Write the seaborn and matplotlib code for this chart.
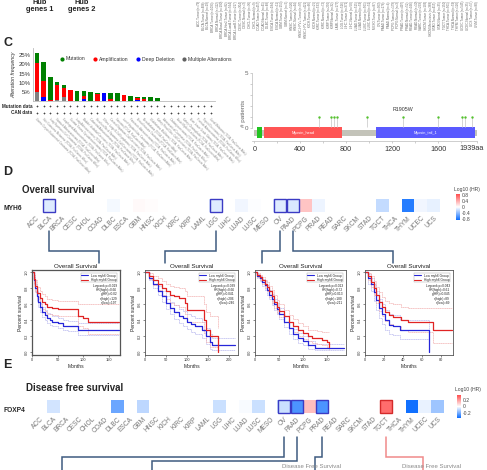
import numpy as np
import pandas as pd
import matplotlib
matplotlib.use("Agg")
import matplotlib.pyplot as plt
import seaborn as sns
from matplotlib.colors import LinearSegmentedColormap
from matplotlib.patches import Rectangle
from matplotlib.lines import Line2D

# ------------------------------------------------------------------
# Data
# ------------------------------------------------------------------
timer_labels = [
    "ACC.Tumor (n=79)", "BLCA.Tumor (n=408)", "BLCA.Normal (n=19)", "BRCA.Tumor (n=1093)",
    "BRCA.Normal (n=112)", "BRCA-Basal.Tumor (n=190)", "BRCA-Her2.Tumor (n=82)",
    "BRCA-LumA.Tumor (n=564)", "BRCA-LumB.Tumor (n=217)", "CESC.Tumor (n=304)",
    "CESC.Normal (n=3)", "CHOL.Tumor (n=36)", "CHOL.Normal (n=9)", "COAD.Tumor (n=457)",
    "COAD.Normal (n=41)", "DLBC.Tumor (n=48)", "ESCA.Tumor (n=184)", "ESCA.Normal (n=11)",
    "GBM.Tumor (n=153)", "GBM.Normal (n=5)", "HNSC.Tumor (n=520)", "HNSC.Normal (n=44)",
    "HNSC-HPV+.Tumor (n=97)", "HNSC-HPV-.Tumor (n=421)", "KICH.Tumor (n=66)",
    "KICH.Normal (n=25)", "KIRC.Tumor (n=533)", "KIRC.Normal (n=72)", "KIRP.Tumor (n=290)",
    "KIRP.Normal (n=32)", "LAML.Tumor (n=173)", "LGG.Tumor (n=516)", "LIHC.Tumor (n=371)",
    "LIHC.Normal (n=50)", "LUAD.Tumor (n=515)", "LUAD.Normal (n=59)", "LUSC.Tumor (n=501)",
    "LUSC.Normal (n=51)", "MESO.Tumor (n=87)", "OV.Tumor (n=303)", "PAAD.Tumor (n=178)",
    "PAAD.Normal (n=4)", "PCPG.Tumor (n=179)", "PCPG.Normal (n=3)", "PRAD.Tumor (n=497)",
    "PRAD.Normal (n=52)", "READ.Tumor (n=166)", "READ.Normal (n=10)", "SARC.Tumor (n=259)",
    "SKCM.Tumor (n=103)", "SKCM.Metastasis (n=368)", "STAD.Tumor (n=415)",
    "STAD.Normal (n=35)", "TGCT.Tumor (n=150)", "THCA.Tumor (n=501)", "THCA.Normal (n=59)",
    "THYM.Tumor (n=120)", "UCEC.Tumor (n=545)", "UCEC.Normal (n=35)", "UCS.Tumor (n=57)",
    "UVM.Tumor (n=80)",
]

# panel C : alteration frequency (%)
studies = [
    "Uterine Corpus Endometrial Carcinoma (TCGA, PanCancer Atlas)",
    "Skin Cutaneous Melanoma (TCGA, PanCancer Atlas)",
    "Lung Squamous Cell Carcinoma (TCGA, PanCancer Atlas)",
    "Stomach Adenocarcinoma (TCGA, PanCancer Atlas)",
    "Esophageal Adenocarcinoma (TCGA, PanCancer Atlas)",
    "Ovarian Serous Cystadenocarcinoma (TCGA, PanCancer Atlas)",
    "Lung Adenocarcinoma (TCGA, PanCancer Atlas)",
    "Bladder Urothelial Carcinoma (TCGA, PanCancer Atlas)",
    "Colorectal Adenocarcinoma (TCGA, PanCancer Atlas)",
    "Head and Neck Squamous Cell Carcinoma (TCGA, PanCancer Atlas)",
    "Diffuse Large B-Cell Lymphoma (TCGA, PanCancer Atlas)",
    "Cervical Squamous Cell Carcinoma (TCGA, PanCancer Atlas)",
    "Sarcoma (TCGA, PanCancer Atlas)",
    "Liver Hepatocellular Carcinoma (TCGA, PanCancer Atlas)",
    "Pancreatic Adenocarcinoma (TCGA, PanCancer Atlas)",
    "Breast Invasive Carcinoma (TCGA, PanCancer Atlas)",
    "Mesothelioma (TCGA, PanCancer Atlas)",
    "Glioblastoma Multiforme (TCGA, PanCancer Atlas)",
    "Kidney Renal Clear Cell Carcinoma (TCGA, PanCancer Atlas)",
    "Adrenocortical Carcinoma (TCGA, PanCancer Atlas)",
    "Cholangiocarcinoma (TCGA, PanCancer Atlas)",
    "Acute Myeloid Leukemia (TCGA, PanCancer Atlas)",
    "Kidney Chromophobe (TCGA, PanCancer Atlas)",
    "Brain Lower Grade Glioma (TCGA, PanCancer Atlas)",
    "Prostate Adenocarcinoma (TCGA, PanCancer Atlas)",
    "Thyroid Carcinoma (TCGA, PanCancer Atlas)",
    "Uveal Melanoma (TCGA, PanCancer Atlas)",
]
alt_multi = [5.0, 0, 0, 0.5, 2.0, 0, 0, 0, 0, 0, 0, 0, 0, 0, 0, 0, 0, 0, 0, 0, 0, 0, 0, 0, 0, 0, 0]
alt_deep = [0, 2.0, 0, 0, 0, 0, 0, 1.0, 0, 0, 4.3, 0, 0, 0, 0, 0.3, 0, 0, 0, 0, 0, 0, 0, 0, 0, 0, 0]
alt_amp = [16.0, 9.0, 0.7, 8.5, 5.0, 5.8, 0, 1.5, 0, 3.7, 0, 1.2, 0, 3.3, 0, 1.2, 1.0, 0, 0, 0, 0, 0, 0, 0, 0, 0, 0]
alt_mut = [5.0, 10.5, 12.3, 1.5, 2.0, 0, 5.5, 2.8, 5.0, 0.9, 0, 3.0, 4.2, 0, 2.5, 0.8, 1.0, 2.0, 1.5, 0, 0, 0, 0, 0, 0, 0, 0]

# panel C : lollipop (MYH6 protein, 1939 aa)
mut_pos = [565, 667, 696, 719, 980, 1296, 1600, 1809, 1838, 1893]
mut_count = [1, 1, 1, 1, 1, 1, 1, 1, 1, 1]
domain_names = ["", "Myosin_head", "Myosin_tail_1"]
domain_start = [26, 87, 1061]
domain_end = [70, 765, 1922]
protein_len = 1939

# heatmaps D / E
cancer_types = ["ACC", "BLCA", "BRCA", "CESC", "CHOL", "COAD", "DLBC", "ESCA", "GBM", "HNSC",
                "KICH", "KIRC", "KIRP", "LAML", "LGG", "LIHC", "LUAD", "LUSC", "MESO", "OV",
                "PAAD", "PCPG", "PRAD", "READ", "SARC", "SKCM", "STAD", "TGCT", "THCA", "THYM",
                "UCEC", "UCS"]
nan = np.nan
os_log_hr = [nan, -0.12, nan, nan, nan, nan, -0.04, nan, 0.03, 0.02, nan, nan, nan, nan, -0.12,
             nan, -0.05, -0.01, nan, -0.12, -0.14, 0.30, -0.07, nan, nan, nan, nan, -0.22, nan,
             -0.80, -0.05, -0.09]
os_sig = ["BLCA", "LGG", "OV", "PAAD"]
dfs_log_hr = [nan, -0.06, nan, nan, nan, nan, -0.20, nan, -0.09, nan, nan, nan, nan, nan, -0.07,
              nan, -0.01, -0.07, nan, -0.07, -0.24, 0.12, -0.24, nan, nan, nan, nan, 0.27, nan,
              -0.32, -0.03, -0.13]
dfs_sig_low = ["OV", "PAAD", "PRAD"]
dfs_sig_high = ["TGCT"]

# Kaplan-Meier curves (months, survival)
km_titles = ["Overall Survival"] * 4
km_xmax = [172, 222, 190, 93]
km_xticks = [[0, 50, 100, 150], [0, 50, 100, 150, 200], [0, 50, 100, 150], [0, 20, 40, 60, 80]]

blca_low_t = [0, 3, 6, 9, 12, 16, 20, 25, 30, 35, 40, 50, 60, 70, 90, 170]
blca_low_s = [1, 0.9, 0.8, 0.7, 0.63, 0.56, 0.5, 0.46, 0.42, 0.4, 0.38, 0.36, 0.33, 0.32, 0.28, 0.28]
blca_low_hi = [1, 0.94, 0.85, 0.76, 0.69, 0.62, 0.57, 0.53, 0.49, 0.47, 0.45, 0.43, 0.4, 0.39, 0.36, 0.36]
blca_low_lo = [1, 0.86, 0.75, 0.64, 0.57, 0.5, 0.44, 0.4, 0.36, 0.34, 0.32, 0.3, 0.27, 0.26, 0.21, 0.21]
blca_high_t = [0, 3, 6, 10, 15, 20, 25, 30, 40, 50, 90, 100, 110, 170]
blca_high_s = [1, 0.92, 0.83, 0.74, 0.68, 0.63, 0.6, 0.57, 0.55, 0.54, 0.45, 0.42, 0.37, 0.37]
blca_high_hi = [1, 0.97, 0.9, 0.82, 0.77, 0.73, 0.7, 0.67, 0.65, 0.64, 0.6, 0.6, 0.6, 0.6]
blca_high_lo = [1, 0.87, 0.76, 0.66, 0.6, 0.54, 0.51, 0.48, 0.46, 0.45, 0.33, 0.3, 0.22, 0.22]

lgg_low_t = [0, 10, 20, 30, 40, 50, 60, 70, 80, 90, 100, 110, 120, 135, 145, 155, 160, 215]
lgg_low_s = [1, 0.93, 0.85, 0.77, 0.7, 0.62, 0.55, 0.5, 0.45, 0.42, 0.38, 0.35, 0.33, 0.28, 0.2, 0.12, 0.08, 0.08]
lgg_low_hi = [1, 0.96, 0.9, 0.83, 0.77, 0.7, 0.63, 0.59, 0.54, 0.51, 0.47, 0.45, 0.43, 0.38, 0.3, 0.22, 0.18, 0.18]
lgg_low_lo = [1, 0.9, 0.8, 0.71, 0.63, 0.54, 0.47, 0.41, 0.36, 0.33, 0.29, 0.25, 0.23, 0.18, 0.1, 0.04, 0.02, 0.02]
lgg_high_t = [0, 10, 20, 30, 40, 50, 60, 70, 80, 95, 100, 135, 140, 145, 155, 175]
lgg_high_s = [1, 0.96, 0.9, 0.86, 0.8, 0.76, 0.72, 0.7, 0.68, 0.62, 0.53, 0.53, 0.4, 0.28, 0.2, 0.0]
lgg_high_hi = [1, 0.99, 0.96, 0.93, 0.89, 0.86, 0.83, 0.81, 0.8, 0.76, 0.7, 0.7, 0.6, 0.5, 0.45, 0.3]
lgg_high_lo = [1, 0.92, 0.84, 0.78, 0.71, 0.66, 0.61, 0.59, 0.56, 0.48, 0.38, 0.38, 0.24, 0.12, 0.06, 0.0]

ov_low_t = [0, 5, 10, 15, 20, 25, 30, 35, 40, 45, 50, 60, 70, 80, 90, 100, 110, 125, 185]
ov_low_s = [1, 0.96, 0.93, 0.88, 0.84, 0.78, 0.72, 0.66, 0.6, 0.54, 0.48, 0.38, 0.3, 0.22, 0.17, 0.13, 0.08, 0.05, 0.05]
ov_low_hi = [1, 0.98, 0.96, 0.92, 0.89, 0.84, 0.78, 0.73, 0.67, 0.61, 0.55, 0.45, 0.37, 0.29, 0.24, 0.2, 0.14, 0.1, 0.1]
ov_low_lo = [1, 0.93, 0.89, 0.83, 0.78, 0.72, 0.66, 0.59, 0.53, 0.47, 0.41, 0.31, 0.23, 0.16, 0.11, 0.08, 0.04, 0.02, 0.02]
ov_high_t = [0, 5, 10, 15, 20, 25, 30, 35, 40, 45, 50, 60, 70, 80, 90, 100, 110, 120, 130, 140, 150, 155]
ov_high_s = [1, 0.97, 0.94, 0.9, 0.86, 0.82, 0.76, 0.7, 0.63, 0.57, 0.52, 0.45, 0.38, 0.33, 0.28, 0.24, 0.2, 0.18, 0.17, 0.15, 0.12, 0.06]
ov_high_hi = [1, 0.99, 0.97, 0.94, 0.91, 0.88, 0.83, 0.78, 0.71, 0.65, 0.6, 0.53, 0.46, 0.41, 0.36, 0.32, 0.28, 0.27, 0.26, 0.25, 0.25, 0.25]
ov_high_lo = [1, 0.94, 0.9, 0.85, 0.8, 0.76, 0.69, 0.62, 0.55, 0.49, 0.44, 0.37, 0.3, 0.25, 0.2, 0.16, 0.13, 0.11, 0.1, 0.08, 0.06, 0.02]

paad_low_t = [0, 3, 6, 9, 12, 15, 18, 21, 25, 30, 37, 68]
paad_low_s = [1, 0.93, 0.85, 0.75, 0.65, 0.55, 0.47, 0.4, 0.34, 0.33, 0.28, 0.0]
paad_low_hi = [1, 0.98, 0.93, 0.85, 0.76, 0.67, 0.6, 0.53, 0.47, 0.46, 0.4, 0.0]
paad_low_lo = [1, 0.86, 0.76, 0.64, 0.53, 0.43, 0.35, 0.28, 0.22, 0.21, 0.16, 0.0]
paad_high_t = [0, 3, 6, 9, 12, 15, 18, 21, 25, 30, 38, 45, 72, 92]
paad_high_s = [1, 0.95, 0.88, 0.8, 0.72, 0.63, 0.56, 0.5, 0.46, 0.44, 0.4, 0.37, 0.27, 0.27]
paad_high_hi = [1, 0.99, 0.95, 0.89, 0.82, 0.75, 0.69, 0.64, 0.62, 0.6, 0.56, 0.55, 0.55, 0.55]
paad_high_lo = [1, 0.9, 0.81, 0.71, 0.62, 0.52, 0.45, 0.39, 0.35, 0.32, 0.28, 0.25, 0.11, 0.11]

km_stats = [
    ["Logrank p=0.019", "HR(high)=0.66", "p(HR)=0.02", "n(high)=129", "n(low)=197"],
    ["Logrank p=0.039", "HR(high)=0.66", "p(HR)=0.041", "n(high)=206", "n(low)=246"],
    ["Logrank p=0.013", "HR(high)=0.72", "p(HR)=0.013", "n(high)=180", "n(low)=211"],
    ["Logrank p=0.043", "HR(high)=0.61", "p(HR)=0.045", "n(high)=89", "n(low)=89"],
]

# ------------------------------------------------------------------
# Figure helpers (pixel coordinates, origin top-left)
# ------------------------------------------------------------------
W, H = 487, 470
sns.set_theme(style="white")
plt.rcParams["font.family"] = ["Liberation Sans", "DejaVu Sans"]

fig = plt.figure(figsize=(W / 100, H / 100), dpi=100)
fig.patch.set_facecolor("white")


def px_axes(x0, y0, x1, y1):
    return fig.add_axes([x0 / W, 1 - y1 / H, (x1 - x0) / W, (y1 - y0) / H])


def ftext(x, y, s, **kw):
    fig.text(x / W, 1 - y / H, s, **kw)


# overlay for connector lines
over = fig.add_axes([0, 0, 1, 1], zorder=-1)
over.set_xlim(0, W)
over.set_ylim(H, 0)
over.axis("off")

# ------------------------------------------------------------------
# Top strip: hub genes + expression labels
# ------------------------------------------------------------------
for cx, nm in [(40, "genes 1"), (82, "genes 2")]:
    ftext(cx, 2.5, "Hub", ha="center", va="center", fontsize=5.3, fontweight="bold", color="#222")
    ftext(cx, 9.5, nm, ha="center", va="center", fontsize=5.3, fontweight="bold", color="#222")
lab_x = np.linspace(199, 477, len(timer_labels))
for xx, lab in zip(lab_x, timer_labels):
    ftext(xx, 1, lab, rotation=90, ha="center", va="top", fontsize=2.2, color="#666")

# ------------------------------------------------------------------
# Panel C
# ------------------------------------------------------------------
ftext(8, 43, "C", ha="center", va="center", fontsize=9, fontweight="bold")

ax_bar = px_axes(33, 48, 215, 101)
xb = np.arange(len(studies))
bottom = np.zeros(len(studies))
for vals, col in [(alt_multi, "#808080"), (alt_deep, "#0000ff"),
                  (alt_amp, "#ff0000"), (alt_mut, "#008000")]:
    vals = np.array(vals, dtype=float)
    ax_bar.bar(xb, vals, bottom=bottom, color=col, width=0.68, linewidth=0)
    bottom += vals
ax_bar.set_xlim(-0.6, len(studies) - 0.4)
ax_bar.set_ylim(0, 29)
ax_bar.set_yticks([5, 10, 15, 20, 25])
ax_bar.set_yticklabels(["5%", "10%", "15%", "20%", "25%"], fontsize=4.3, color="#333")
ax_bar.set_xticks([])
ax_bar.tick_params(axis="y", length=0, pad=1.5)
for s in ["top", "right"]:
    ax_bar.spines[s].set_visible(False)
for s in ["left", "bottom"]:
    ax_bar.spines[s].set_color("#bbbbbb")
    ax_bar.spines[s].set_linewidth(0.6)
ax_bar.set_ylabel("Alteration frequency", fontsize=3.8, fontstyle="italic", labelpad=2, color="#333")

leg_items = [("Mutation", "#008000"), ("Amplification", "#ff0000"),
             ("Deep Deletion", "#0000ff"), ("Multiple Alterations", "#606060")]
handles = [Line2D([], [], marker="o", ls="", color=c, ms=2.0) for _, c in leg_items]
fig.legend(handles, [n for n, _ in leg_items], loc="center", bbox_to_anchor=(145 / W, 1 - 59 / H),
           ncol=4, frameon=False, fontsize=3.7, handletextpad=0.1, columnspacing=1.3,
           handlelength=1.2, labelcolor="#333")

ax_rows = px_axes(33, 102, 215, 116)
xx_r = np.repeat(xb, 2)
yy_r = np.tile([1, 0], len(studies))
ax_rows.scatter(xx_r, yy_r, marker="+", s=2.5, color="#444", linewidths=0.5)
ax_rows.set_xlim(ax_bar.get_xlim())
ax_rows.set_ylim(-0.5, 1.5)
ax_rows.set_yticks([1, 0])
ax_rows.set_yticklabels(["Mutation data", "CAN data"], fontsize=3.3, fontweight="bold")
ax_rows.set_xticks(xb)
ax_rows.set_xticklabels(studies, rotation=-45, ha="left", va="top", rotation_mode="anchor",
                        fontsize=1.9, color="#888")
ax_rows.tick_params(length=0, pad=1)
ax_rows.tick_params(axis="y", pad=0.5)
ax_rows.patch.set_alpha(0)
for s in ax_rows.spines.values():
    s.set_visible(False)

# lollipop
ax_lp = px_axes(252, 62, 477, 141)
ax_lp.set_xlim(-20, protein_len)
ax_lp.set_ylim(-1.18, 6.0)
ax_lp.add_patch(Rectangle((0, -0.7), protein_len, 0.55, color="#c3c3b9", lw=0))
dom_cols = ["#22c322", "#ff5555", "#5a5aff"]
for nm, a, b, c in zip(domain_names, domain_start, domain_end, dom_cols):
    ax_lp.add_patch(Rectangle((a, -0.92), b - a, 0.97, color=c, lw=0))
    if nm:
        ax_lp.text((a + b) / 2, -0.43, nm, ha="center", va="center", fontsize=2.8, color="white")
ax_lp.vlines(mut_pos, 0.05, mut_count, color="#cfcfcf", lw=0.6)
ax_lp.scatter(mut_pos, mut_count, s=3, color="#55c22f", zorder=3, lw=0)
ax_lp.text(mut_pos[5], 1.7, "R1905W", ha="center", va="center", fontsize=3.8, color="#333")
ax_lp.set_xticks([0, 400, 800, 1200, 1600, protein_len])
ax_lp.set_xticklabels(["0", "400", "800", "1200", "1600", ""], fontsize=5.2, color="#333")
ax_lp.annotate("%daa" % protein_len, xy=(protein_len, 0), xycoords=("data", "axes fraction"),
               xytext=(-3.8, -2.6), textcoords="offset points", ha="center", va="top",
               fontsize=5.2, color="#333")
ax_lp.set_xticks([200, 600, 1000, 1400, 1800], minor=True)
ax_lp.set_yticks([0, 1, 2, 3, 4, 5])
ax_lp.set_yticklabels(["0", "", "", "", "", "5"], fontsize=4.5, color="#666")
ax_lp.tick_params(axis="y", length=1.5, width=0.4, color="#aaa", pad=1.5, direction="out", left=True)
ax_lp.tick_params(axis="x", which="both", length=1.5, width=0.4, color="#aaa", pad=2, bottom=True)
ax_lp.spines["left"].set_bounds(0, 5)
for s in ["top", "right"]:
    ax_lp.spines[s].set_visible(False)
for s in ["left", "bottom"]:
    ax_lp.spines[s].set_color("#bbbbbb")
    ax_lp.spines[s].set_linewidth(0.5)
ax_lp.set_ylabel("# patients", fontsize=4.5, color="#666", labelpad=1)
ax_lp.yaxis.set_label_coords(-0.025, 0.35)
ax_lp.patch.set_alpha(0)

# ------------------------------------------------------------------
# Heatmap helper
# ------------------------------------------------------------------
hr_cmap = LinearSegmentedColormap.from_list("hr", ["#0b6dff", "#ffffff", "#ff4d4d"])


def draw_row(x0, y0, x1, y1, gene, vals, lim, ticks, cbar_box, sig_blue, sig_red):
    ax = px_axes(x0, y0, x1, y1)
    cax = px_axes(*cbar_box)
    df = pd.DataFrame([vals], index=[gene], columns=cancer_types)
    sns.heatmap(df, ax=ax, cmap=hr_cmap, vmin=-lim, vmax=lim, cbar_ax=cax,
                xticklabels=True, yticklabels=False, linewidths=0)
    ax.set_xticklabels(cancer_types, rotation=45, ha="right", va="top", rotation_mode="anchor",
                       fontsize=4.8, color="#777")
    ax.tick_params(axis="x", length=0, pad=2)
    ax.set_xlabel("")
    for nm in sig_blue:
        i = cancer_types.index(nm)
        ax.add_patch(Rectangle((i + 0.03, 0.03), 0.94, 0.94, fill=False, ec="#3b3bc4", lw=1.0, clip_on=False))
    for nm in sig_red:
        i = cancer_types.index(nm)
        ax.add_patch(Rectangle((i + 0.03, 0.03), 0.94, 0.94, fill=False, ec="#d42a2a", lw=1.0, clip_on=False))
    cax.set_yticks(ticks)
    cax.set_yticklabels([("%g" % t) for t in ticks], fontsize=3.6, color="#444")
    cax.tick_params(length=0, pad=1)
    for s in cax.spines.values():
        s.set_visible(False)
    return ax


def connector(x_start, y0, y_mid, x_end, y1, color):
    over.plot([x_start, x_start, x_end, x_end], [y0, y_mid, y_mid, y1], color=color, lw=1.1,
              solid_joinstyle="miter")


# ------------------------------------------------------------------
# Panel D
# ------------------------------------------------------------------
ftext(8, 172, "D", ha="center", va="center", fontsize=9, fontweight="bold")
ftext(22, 190, "Overall survival", ha="left", va="center", fontsize=7, fontweight="bold")
ftext(3, 209, "MYH6", ha="left", va="center", fontsize=4.8, fontweight="bold")
ftext(467, 190, "Log10 (HR)", ha="center", va="center", fontsize=3.6, color="#444")
draw_row(30, 199, 440, 212, "MYH6", os_log_hr, 0.9, [0.8, 0.4, 0, -0.4, -0.8],
         (456, 194, 460, 220), os_sig, [])

cell_d = (440 - 30) / len(cancer_types)
os_targets = [99, 165, 262, 393]
for nm, tx in zip(os_sig, os_targets):
    cx = 30 + (cancer_types.index(nm) + 0.5) * cell_d
    connector(cx, 231, 251, tx, 263, "#3f5b80")

# Kaplan-Meier panels
km_boxes = [(32, 270, 120, 355), (145, 270, 238, 355), (255, 270, 346, 355), (365, 270, 453, 355)]
km_data = [
    (blca_low_t, blca_low_s, blca_low_hi, blca_low_lo, blca_high_t, blca_high_s, blca_high_hi, blca_high_lo),
    (lgg_low_t, lgg_low_s, lgg_low_hi, lgg_low_lo, lgg_high_t, lgg_high_s, lgg_high_hi, lgg_high_lo),
    (ov_low_t, ov_low_s, ov_low_hi, ov_low_lo, ov_high_t, ov_high_s, ov_high_hi, ov_high_lo),
    (paad_low_t, paad_low_s, paad_low_hi, paad_low_lo, paad_high_t, paad_high_s, paad_high_hi, paad_high_lo),
]
for k, box in enumerate(km_boxes):
    ax = px_axes(*box)
    lt, ls_, lhi, llo, ht, hs, hhi, hlo = km_data[k]
    for t, ci, col in [(lt, lhi, "#b8b8ee"), (lt, llo, "#b8b8ee"), (ht, hhi, "#f2b0b0"), (ht, hlo, "#f2b0b0")]:
        sns.lineplot(x=t, y=ci, ax=ax, drawstyle="steps-post", color=col, lw=0.5,
                     estimator=None, sort=False, ls=(0, (2, 0.6)))
    sns.lineplot(x=lt, y=ls_, ax=ax, drawstyle="steps-post", color="#2626d9", lw=0.9,
                 estimator=None, sort=False)
    sns.lineplot(x=ht, y=hs, ax=ax, drawstyle="steps-post", color="#e02424", lw=0.9,
                 estimator=None, sort=False)
    ax.set_xlim(0, km_xmax[k])
    ax.set_ylim(-0.04, 1.03)
    ax.set_xticks(km_xticks[k])
    ax.set_yticks([0, 0.2, 0.4, 0.6, 0.8, 1.0])
    ax.set_yticklabels(["0.0", "0.2", "0.4", "0.6", "0.8", "1.0"], rotation=90, va="center")
    ax.tick_params(labelsize=2.8, length=1.2, width=0.4, pad=1, left=True, bottom=True, colors="#333")
    for s in ax.spines.values():
        s.set_color("#555")
        s.set_linewidth(0.6 if k else 0.9)
    ax.set_title(km_titles[k], fontsize=4.5, pad=1.5, color="#222")
    ax.set_xlabel("Months", fontsize=3.6, labelpad=1.5)
    ax.set_ylabel("Percent survival", fontsize=3.6, labelpad=1.5)
    hl = [Line2D([], [], color="#2626d9", lw=0.8), Line2D([], [], color="#e02424", lw=0.8)]
    leg = ax.legend(hl, ["Low myh6 Group", "High myh6 Group"], loc="upper right", fontsize=2.3,
                    frameon=True, handlelength=2.2, borderpad=0.2, labelspacing=0.1,
                    bbox_to_anchor=(0.985, 0.985), fancybox=False)
    leg.get_frame().set_linewidth(0.3)
    leg.get_frame().set_edgecolor("#888")
    ax.text(0.965, 0.84, "\n".join(km_stats[k]), transform=ax.transAxes, ha="right", va="top",
            fontsize=2.3, linespacing=1.15, color="#222")

# ------------------------------------------------------------------
# Panel E
# ------------------------------------------------------------------
ftext(7, 365, "E", ha="center", va="center", fontsize=9, fontweight="bold")
ftext(26, 388, "Disease free survival", ha="left", va="center", fontsize=7, fontweight="bold")
ftext(3, 410, "FOXP4", ha="left", va="center", fontsize=4.8, fontweight="bold")
ftext(468, 389, "Log10 (HR)", ha="center", va="center", fontsize=3.6, color="#444")
draw_row(34, 400, 444, 413, "FOXP4", dfs_log_hr, 0.33, [0.2, 0, -0.2],
         (457, 395, 461, 418), dfs_sig_low, dfs_sig_high)

cell_e = (444 - 34) / len(cancer_types)
dfs_links = [("OV", 62, 457, "#3f5b80"), ("PAAD", 152, 461, "#3f5b80"),
             ("PRAD", 315, 457, "#3f5b80"), ("TGCT", 423, 457, "#f08a8a")]
for nm, tx, ym, col in dfs_links:
    cx = 34 + (cancer_types.index(nm) + 0.5) * cell_e
    connector(cx, 437, ym, tx, 472, col)
ftext(311, 467, "Disease Free Survival", ha="center", va="center", fontsize=4.3, color="#888")
ftext(431, 467, "Disease Free Survival", ha="center", va="center", fontsize=4.3, color="#888")

fig.savefig("out.png", dpi=100, facecolor="white")
